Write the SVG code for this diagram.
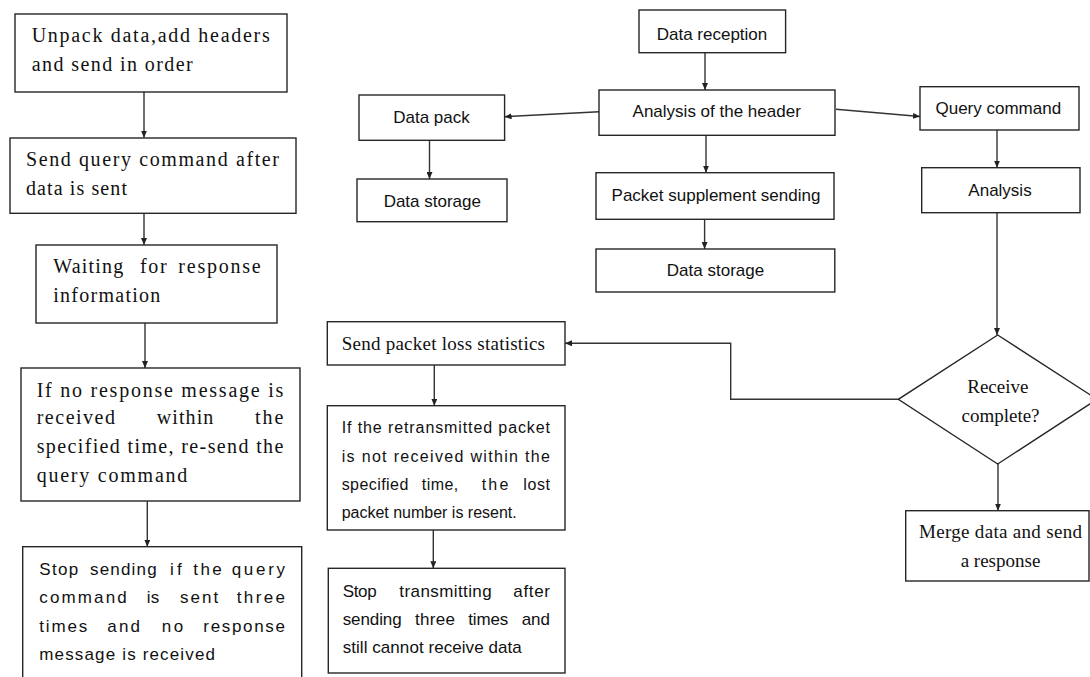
<svg xmlns="http://www.w3.org/2000/svg" width="1090" height="677" viewBox="0 0 1090 677">
<defs>
<style>
.box{fill:#fff;stroke:#262626;stroke-width:1.4}
.serif{font-family:"Liberation Serif","Times New Roman",serif;font-size:19px;fill:#111}
.serif20{font-family:"Liberation Serif","Times New Roman",serif;font-size:20px;fill:#111}
.sans{font-family:"Liberation Sans",Arial,sans-serif;font-size:17px;fill:#111}
.sans16{font-family:"Liberation Sans",Arial,sans-serif;font-size:16px;fill:#111}
.c{text-anchor:middle}
.conn{fill:none;stroke:#333;stroke-width:1.4;marker-end:url(#ah)}
</style>
<marker id="ah" markerUnits="userSpaceOnUse" markerWidth="8" markerHeight="6" refX="7" refY="3" orient="auto">
<path d="M0,0 L7,3 L0,6 z" fill="#222"/>
</marker>
</defs>
<rect width="1090" height="677" fill="#fff"/>

<g id="connectors">
<path class="conn" d="M144,92 V137.7"/>
<path class="conn" d="M144,213.3 V245"/>
<path class="conn" d="M145,323 V368"/>
<path class="conn" d="M147.3,501.3 V546.7"/>
<path class="conn" d="M705,52.7 V90"/>
<path class="conn" d="M599,111.7 L504.6,116.7"/>
<path class="conn" d="M429.5,140.3 V179"/>
<path class="conn" d="M706,135.3 V172.7"/>
<path class="conn" d="M704.6,219.3 V249"/>
<path class="conn" d="M836,109.3 L920,116.5"/>
<path class="conn" d="M997,130 V167.7"/>
<path class="conn" d="M997,212.7 V335"/>
<path class="conn" d="M898.3,399.3 H730.7 V343.3 H565"/>
<path class="conn" d="M998,464 V510.7"/>
<path class="conn" d="M434.3,365 V405.7"/>
<path class="conn" d="M433.3,530 V568.3"/>
</g>

<g id="unpack">
<rect class="box" x="15" y="14" width="272" height="78"/>
<text class="serif20" x="31.7" y="41.7" textLength="238" lengthAdjust="spacing">Unpack data,add headers</text>
<text class="serif20" x="31.7" y="70.7" textLength="161" lengthAdjust="spacing">and send in order</text>
</g>

<g id="send-query">
<rect class="box" x="10" y="138" width="286" height="75.3"/>
<text class="serif20" x="26" y="166" textLength="253" lengthAdjust="spacing">Send query command after</text>
<text class="serif20" x="26" y="195" textLength="101" lengthAdjust="spacing">data is sent</text>
</g>

<g id="waiting">
<rect class="box" x="36" y="245" width="241" height="78"/>
<text class="serif20" y="273"><tspan x="53.3" textLength="70" lengthAdjust="spacing">Waiting</tspan><tspan x="140" textLength="26.7" lengthAdjust="spacing">for</tspan><tspan x="178.3" textLength="82.4" lengthAdjust="spacing">response</tspan></text>
<text class="serif20" x="53.3" y="302" textLength="107" lengthAdjust="spacing">information</text>
</g>

<g id="no-response">
<rect class="box" x="21" y="368" width="279" height="133"/>
<text class="serif20" x="36.7" y="397" textLength="246.6" lengthAdjust="spacing">If no response message is</text>
<text class="serif20" y="424"><tspan x="36.7" textLength="78.3" lengthAdjust="spacing">received</tspan><tspan x="156.7" textLength="56.6" lengthAdjust="spacing">within</tspan><tspan x="255" textLength="28.3" lengthAdjust="spacing">the</tspan></text>
<text class="serif20" x="36.7" y="453" textLength="246.6" lengthAdjust="spacing">specified time, re-send the</text>
<text class="serif20" x="36.7" y="482" textLength="150.6" lengthAdjust="spacing">query command</text>
</g>

<g id="stop-sending">
<rect class="box" x="22.7" y="546.7" width="279" height="145"/>
<text class="sans" y="575"><tspan x="39.3" textLength="39" lengthAdjust="spacing">Stop</tspan><tspan x="90" textLength="66.7" lengthAdjust="spacing">sending</tspan><tspan x="170" textLength="11.7" lengthAdjust="spacing">if</tspan><tspan x="193.3" textLength="28.4" lengthAdjust="spacing">the</tspan><tspan x="231.7" textLength="53.3" lengthAdjust="spacing">query</tspan></text>
<text class="sans" y="603.3"><tspan x="39.3" textLength="87.4" lengthAdjust="spacing">command</tspan><tspan x="146.7" textLength="12.6" lengthAdjust="spacing">is</tspan><tspan x="180" textLength="38.3" lengthAdjust="spacing">sent</tspan><tspan x="236.7" textLength="48.3" lengthAdjust="spacing">three</tspan></text>
<text class="sans" y="631.7"><tspan x="39.3" textLength="48" lengthAdjust="spacing">times</tspan><tspan x="107.3" textLength="32.7" lengthAdjust="spacing">and</tspan><tspan x="161.7" textLength="21.6" lengthAdjust="spacing">no</tspan><tspan x="203.3" textLength="81.7" lengthAdjust="spacing">response</tspan></text>
<text class="sans" x="39.3" y="660" textLength="175.7" lengthAdjust="spacing">message is received</text>
</g>

<g id="data-reception">
<rect class="box" x="639" y="10" width="146.6" height="42.7"/>
<text class="sans c" x="712" y="39.5">Data reception</text>
</g>

<g id="analysis-header">
<rect class="box" x="599" y="90" width="236" height="45.3"/>
<text class="sans c" x="716.7" y="117">Analysis of the header</text>
</g>

<g id="data-pack">
<rect class="box" x="359" y="95" width="145.6" height="45.3"/>
<text class="sans c" x="431.5" y="122.7">Data pack</text>
</g>

<g id="data-storage-left">
<rect class="box" x="357" y="179" width="150" height="42.7"/>
<text class="sans c" x="432.3" y="206.7">Data storage</text>
</g>

<g id="packet-supplement">
<rect class="box" x="596" y="172.7" width="238" height="46.6"/>
<text class="sans c" x="716" y="201">Packet supplement sending</text>
</g>

<g id="data-storage-mid">
<rect class="box" x="596" y="249" width="238.8" height="43"/>
<text class="sans c" x="715.5" y="276">Data storage</text>
</g>

<g id="query-command">
<rect class="box" x="920" y="86.7" width="159" height="43.3"/>
<text class="sans c" x="998.3" y="114">Query command</text>
</g>

<g id="analysis">
<rect class="box" x="921.7" y="167.7" width="158.3" height="45"/>
<text class="sans c" x="1000" y="196">Analysis</text>
</g>

<g id="receive-complete">
<polygon class="box" points="997.7,335 1097,399.3 997.7,464 898.3,399.3"/>
<text class="serif c" x="997.8" y="392.7">Receive</text>
<text class="serif c" x="1000.5" y="421.7">complete?</text>
</g>

<g id="merge">
<rect class="box" x="905.7" y="510.7" width="183.3" height="70.3"/>
<text class="serif" x="919" y="538.3" textLength="163" lengthAdjust="spacing">Merge data and send</text>
<text class="serif c" x="1000.5" y="566.7">a response</text>
</g>

<g id="packet-loss">
<rect class="box" x="327.3" y="321.7" width="237.7" height="43.3"/>
<text class="serif" x="341.7" y="350" textLength="203.3" lengthAdjust="spacing">Send packet loss statistics</text>
</g>

<g id="retransmitted">
<rect class="box" x="327.3" y="405.7" width="237.7" height="124.3"/>
<text class="sans16" x="341.7" y="433.3" textLength="208.3" lengthAdjust="spacing">If the retransmitted packet</text>
<text class="sans16" x="341.7" y="461.7" textLength="208.3" lengthAdjust="spacing">is not received within the</text>
<text class="sans16" y="490"><tspan x="341.7" textLength="66.6" lengthAdjust="spacing">specified</tspan><tspan x="421.7" textLength="36.6" lengthAdjust="spacing">time,</tspan><tspan x="481.7" textLength="26.6" lengthAdjust="spacing">the</tspan><tspan x="523.3" textLength="26.7" lengthAdjust="spacing">lost</tspan></text>
<text class="sans16" x="341.7" y="518.3" textLength="175" lengthAdjust="spacing">packet number is resent.</text>
</g>

<g id="stop-transmitting">
<rect class="box" x="328.3" y="568.3" width="236.7" height="104.7"/>
<text class="sans" y="596.7"><tspan x="342.7" textLength="34" lengthAdjust="spacing">Stop</tspan><tspan x="399.3" textLength="92.4" lengthAdjust="spacing">transmitting</tspan><tspan x="513.3" textLength="36.7" lengthAdjust="spacing">after</tspan></text>
<text class="sans" y="625"><tspan x="342.7" textLength="59" lengthAdjust="spacing">sending</tspan><tspan x="415" textLength="40" lengthAdjust="spacing">three</tspan><tspan x="468.3" textLength="40" lengthAdjust="spacing">times</tspan><tspan x="521.7" textLength="28.3" lengthAdjust="spacing">and</tspan></text>
<text class="sans" x="342.7" y="652.7" textLength="179" lengthAdjust="spacing">still cannot receive data</text>
</g>
</svg>
